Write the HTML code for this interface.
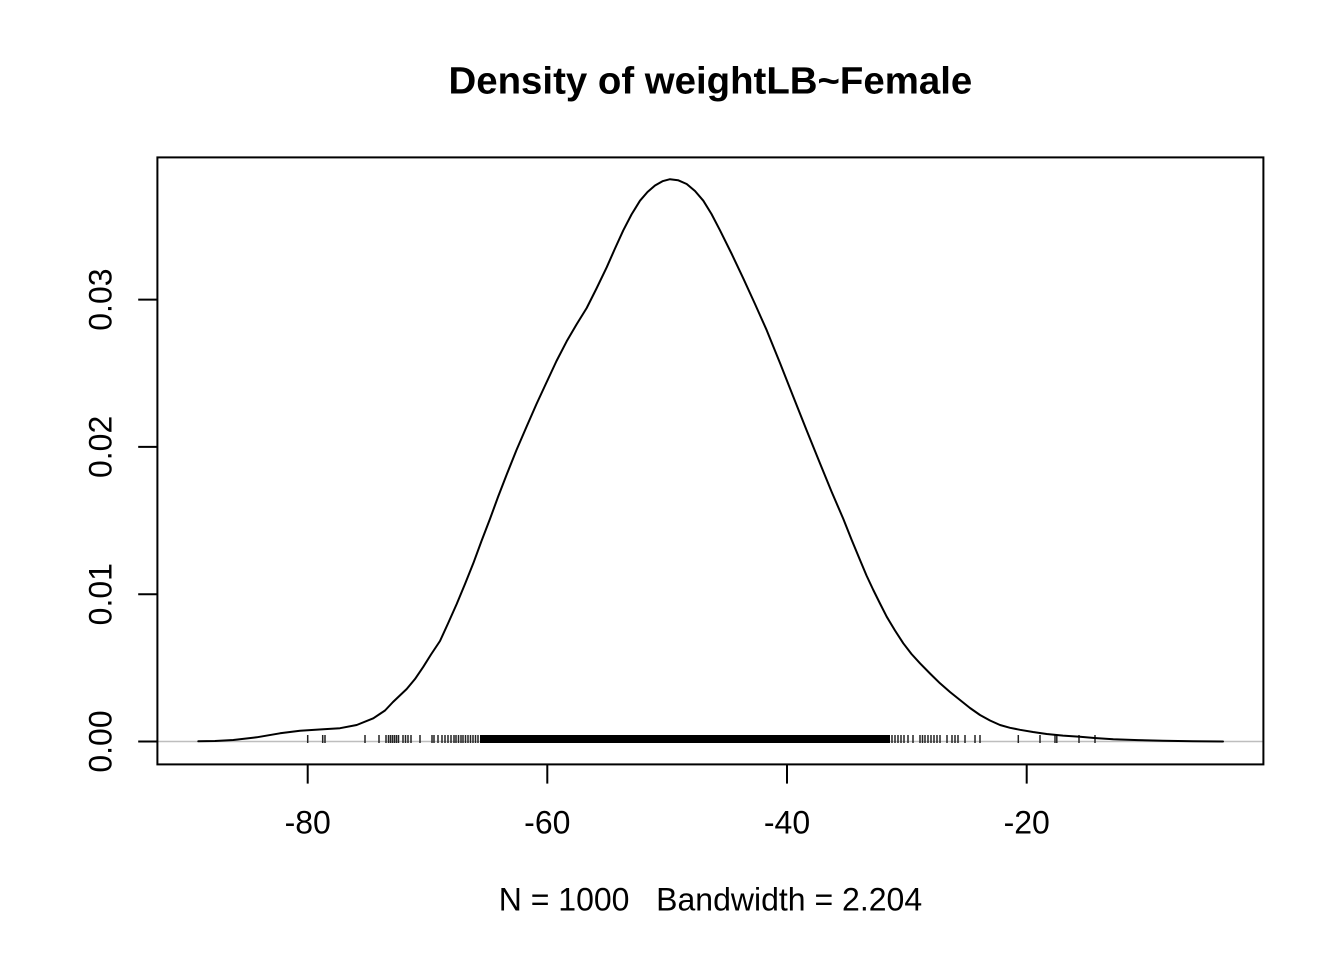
<!DOCTYPE html>
<html>
<head>
<meta charset="utf-8">
<style>
  html, body { margin: 0; padding: 0; background: #ffffff; }
  svg { display: block; }
  text { font-family: "Liberation Sans", Arial, Helvetica, sans-serif; fill: #000; }
</style>
</head>
<body>
<svg width="1344" height="960" viewBox="0 0 1344 960" xmlns="http://www.w3.org/2000/svg">
  <rect x="0" y="0" width="1344" height="960" fill="#ffffff"/>

  <text x="710.4" y="93.3" font-size="38.4" font-weight="bold" text-anchor="middle">Density of weightLB~Female</text>

  <line x1="157.4" y1="741.5" x2="1263.4" y2="741.5" stroke="#bebebe" stroke-width="1.5"/>

  <rect x="480" y="735" width="410" height="8" fill="#000"/>
  <g stroke="#222" stroke-width="1.5">
    <line x1="307.7" y1="735" x2="307.7" y2="743"/>
    <line x1="322.7" y1="735" x2="322.7" y2="743"/>
    <line x1="325" y1="735" x2="325" y2="743"/>
    <line x1="365" y1="735" x2="365" y2="743"/>
    <line x1="379" y1="735" x2="379" y2="743"/>
    <line x1="386" y1="735" x2="386" y2="743"/>
    <line x1="388.5" y1="735" x2="388.5" y2="743"/>
    <line x1="390.5" y1="735" x2="390.5" y2="743"/>
    <line x1="392.5" y1="735" x2="392.5" y2="743"/>
    <line x1="394.5" y1="735" x2="394.5" y2="743"/>
    <line x1="396.5" y1="735" x2="396.5" y2="743"/>
    <line x1="398.5" y1="735" x2="398.5" y2="743"/>
    <line x1="403" y1="735" x2="403" y2="743"/>
    <line x1="405.5" y1="735" x2="405.5" y2="743"/>
    <line x1="408" y1="735" x2="408" y2="743"/>
    <line x1="411" y1="735" x2="411" y2="743"/>
    <line x1="420" y1="735" x2="420" y2="743"/>
    <line x1="432" y1="735" x2="432" y2="743"/>
    <line x1="434" y1="735" x2="434" y2="743"/>
    <line x1="438" y1="735" x2="438" y2="743"/>
    <line x1="442" y1="735" x2="442" y2="743"/>
    <line x1="445" y1="735" x2="445" y2="743"/>
    <line x1="448" y1="735" x2="448" y2="743"/>
    <line x1="451" y1="735" x2="451" y2="743"/>
    <line x1="454" y1="735" x2="454" y2="743"/>
    <line x1="456" y1="735" x2="456" y2="743"/>
    <line x1="458.5" y1="735" x2="458.5" y2="743"/>
    <line x1="461" y1="735" x2="461" y2="743"/>
    <line x1="463" y1="735" x2="463" y2="743"/>
    <line x1="465.5" y1="735" x2="465.5" y2="743"/>
    <line x1="468" y1="735" x2="468" y2="743"/>
    <line x1="470.5" y1="735" x2="470.5" y2="743"/>
    <line x1="473" y1="735" x2="473" y2="743"/>
    <line x1="475.5" y1="735" x2="475.5" y2="743"/>
    <line x1="478" y1="735" x2="478" y2="743"/>
    <line x1="892" y1="735" x2="892" y2="743"/>
    <line x1="895" y1="735" x2="895" y2="743"/>
    <line x1="898" y1="735" x2="898" y2="743"/>
    <line x1="901" y1="735" x2="901" y2="743"/>
    <line x1="904" y1="735" x2="904" y2="743"/>
    <line x1="908" y1="735" x2="908" y2="743"/>
    <line x1="913" y1="735" x2="913" y2="743"/>
    <line x1="920" y1="735" x2="920" y2="743"/>
    <line x1="922.5" y1="735" x2="922.5" y2="743"/>
    <line x1="925" y1="735" x2="925" y2="743"/>
    <line x1="928" y1="735" x2="928" y2="743"/>
    <line x1="931" y1="735" x2="931" y2="743"/>
    <line x1="934" y1="735" x2="934" y2="743"/>
    <line x1="937" y1="735" x2="937" y2="743"/>
    <line x1="940" y1="735" x2="940" y2="743"/>
    <line x1="947" y1="735" x2="947" y2="743"/>
    <line x1="952" y1="735" x2="952" y2="743"/>
    <line x1="955" y1="735" x2="955" y2="743"/>
    <line x1="958" y1="735" x2="958" y2="743"/>
    <line x1="965" y1="735" x2="965" y2="743"/>
    <line x1="975" y1="735" x2="975" y2="743"/>
    <line x1="980" y1="735" x2="980" y2="743"/>
    <line x1="1018.3" y1="735" x2="1018.3" y2="743"/>
    <line x1="1040" y1="735" x2="1040" y2="743"/>
    <line x1="1055" y1="735" x2="1055" y2="743"/>
    <line x1="1056.8" y1="735" x2="1056.8" y2="743"/>
    <line x1="1079" y1="735" x2="1079" y2="743"/>
    <line x1="1095" y1="735" x2="1095" y2="743"/>
  </g>

  <polyline fill="none" stroke="#000" stroke-width="2" stroke-linejoin="round" stroke-linecap="round"
    points="198.3,741.3 215,741 233.3,740 256.7,737.3 280,733.3 300,730.7 323.3,729.3 340,728.2 356.7,725 373.3,718.3 385,710.5 393,702 406.7,689 415,679 423.3,666.8 431,654.5 440,641 448,623.5 456.7,604 465,584 473.3,563.3 481.5,541 490,518.9 498,497 506.7,474.5 516.5,450 526.7,426.4 536.5,404 546.7,382 556.5,361 566.7,341.3 576.5,324.5 586.7,308 596.5,288.5 606.7,267.3 615,248.5 623.3,230.3 631.5,214.5 640,200.7 647.5,192 655,185.5 662.5,181.2 670,179.2 678,180.2 686.7,184 695,191 703.3,200.7 711.5,214 720,230.3 731.5,253.5 743.3,278.4 755,304 766.7,330.2 780,363 793.3,396.8 806.5,430 820,463.4 831.5,491.5 843.3,518.9 851.5,539.5 860,560 866.5,575.5 873.3,590 880,603.5 886.7,616.7 895,630.5 903.3,643.3 911.5,654 920,663.3 930,673.5 940,683.3 950,692 960,700 970,708 980,715 990,720.5 1000,725 1010,727.8 1020,729.8 1033,732 1046.7,734 1063,735.6 1080,736.7 1096,738.1 1113.3,739.3 1138,740.1 1163,740.7 1193,741.2 1223,741.5"/>

  <rect x="157.4" y="157.4" width="1106" height="607" fill="none" stroke="#000" stroke-width="2"/>

  <g stroke="#000" stroke-width="2">
    <line x1="307.7" y1="764.4" x2="307.7" y2="783.6"/>
    <line x1="547.3" y1="764.4" x2="547.3" y2="783.6"/>
    <line x1="787" y1="764.4" x2="787" y2="783.6"/>
    <line x1="1026.7" y1="764.4" x2="1026.7" y2="783.6"/>
  </g>
  <g font-size="32" text-anchor="middle">
    <text x="307.7" y="833.5">-80</text>
    <text x="547.3" y="833.5">-60</text>
    <text x="787" y="833.5">-40</text>
    <text x="1026.7" y="833.5">-20</text>
  </g>

  <g stroke="#000" stroke-width="2">
    <line x1="138.2" y1="741.5" x2="157.4" y2="741.5"/>
    <line x1="138.2" y1="594.2" x2="157.4" y2="594.2"/>
    <line x1="138.2" y1="446.9" x2="157.4" y2="446.9"/>
    <line x1="138.2" y1="299.6" x2="157.4" y2="299.6"/>
  </g>
  <g font-size="32" text-anchor="middle">
    <text transform="translate(111.7,741.5) rotate(-90)">0.00</text>
    <text transform="translate(111.7,594.2) rotate(-90)">0.01</text>
    <text transform="translate(111.7,446.9) rotate(-90)">0.02</text>
    <text transform="translate(111.7,299.6) rotate(-90)">0.03</text>
  </g>

  <text x="710.4" y="910.7" font-size="32" text-anchor="middle" xml:space="preserve" style="white-space:pre">N = 1000   Bandwidth = 2.204</text>
</svg>
</body>
</html>
